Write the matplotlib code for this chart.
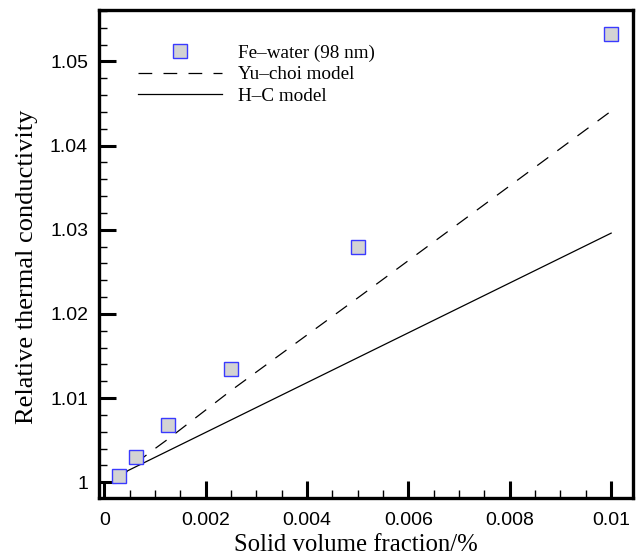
"""Relative thermal conductivity of Fe-water nanofluid vs. two models."""

import matplotlib
matplotlib.use("Agg")
import matplotlib.pyplot as plt
from matplotlib.ticker import FuncFormatter, MultipleLocator

# measured points
phi_exp = [0.0003, 0.000625, 0.00125, 0.0025, 0.005, 0.01]
k_exp = [1.0007, 1.0030, 1.0068, 1.0135, 1.0279, 1.0533]

# Yu-choi model
phi_yu = [0.0003, 0.00045, 0.000625, 0.001, 0.00125, 0.0025, 0.005, 0.01]
k_yu = [1.0000, 1.0013, 1.0023, 1.0040, 1.0051, 1.0109, 1.0219, 1.0441]

# Hamilton-Crosser model
phi_hc = [0.00037, 0.01]
k_hc = [1.0011, 1.0296]

serif = "Liberation Serif"
sans = "Liberation Sans"

fig = plt.figure(figsize=(6.4, 5.58), dpi=100)
ax = fig.add_axes([0.155, 0.107, 0.834, 0.875])

ax.plot(phi_exp, k_exp, linestyle="none", marker="s", markersize=9.8,
        markerfacecolor="#d3d3d3", markeredgecolor="#3a3aff", markeredgewidth=1.0,
        label="Fe\u2013water (98 nm)", zorder=3)
ax.plot(phi_yu, k_yu, color="black", linestyle=(0, (11, 9)), linewidth=0.9,
        label="Yu\u2013choi model")
ax.plot(phi_hc, k_hc, color="black", linestyle="-", linewidth=0.9,
        label="H\u2013C model")

ax.set_xlim(-0.0001, 0.01043)
ax.set_ylim(0.9981, 1.0561)

ax.xaxis.set_major_locator(MultipleLocator(0.002))
ax.xaxis.set_minor_locator(MultipleLocator(0.0005))
ax.yaxis.set_major_locator(MultipleLocator(0.01))
ax.yaxis.set_minor_locator(MultipleLocator(0.002))
fmt = FuncFormatter(lambda v, pos: "%g" % round(v, 6))
ax.xaxis.set_major_formatter(fmt)
ax.yaxis.set_major_formatter(fmt)

ax.tick_params(which="major", direction="in", length=12, width=2.2,
               labelsize=14, pad=8)
ax.tick_params(axis="x", which="major", pad=10)
ax.tick_params(which="minor", direction="in", length=6, width=1.0)
for lab in ax.get_xticklabels() + ax.get_yticklabels():
    lab.set_fontfamily(sans)
for side in ["left", "bottom", "top", "right"]:
    ax.spines[side].set_linewidth(2.4)

ax.set_xlabel("Solid volume fraction/%", fontfamily=serif, fontsize=17.8)
ax.set_ylabel("Relative thermal conductivity", fontfamily=serif, fontsize=19)
ax.xaxis.set_label_coords(0.48, -0.073)
ax.yaxis.set_label_coords(-0.114, 0.474)

ax.legend(loc="upper left", bbox_to_anchor=(0.04, 0.965), frameon=False,
          prop={"family": serif, "size": 13.8}, handlelength=4.4,
          handletextpad=0.83, labelspacing=0.21)

fig.savefig("out.png", dpi=100)
